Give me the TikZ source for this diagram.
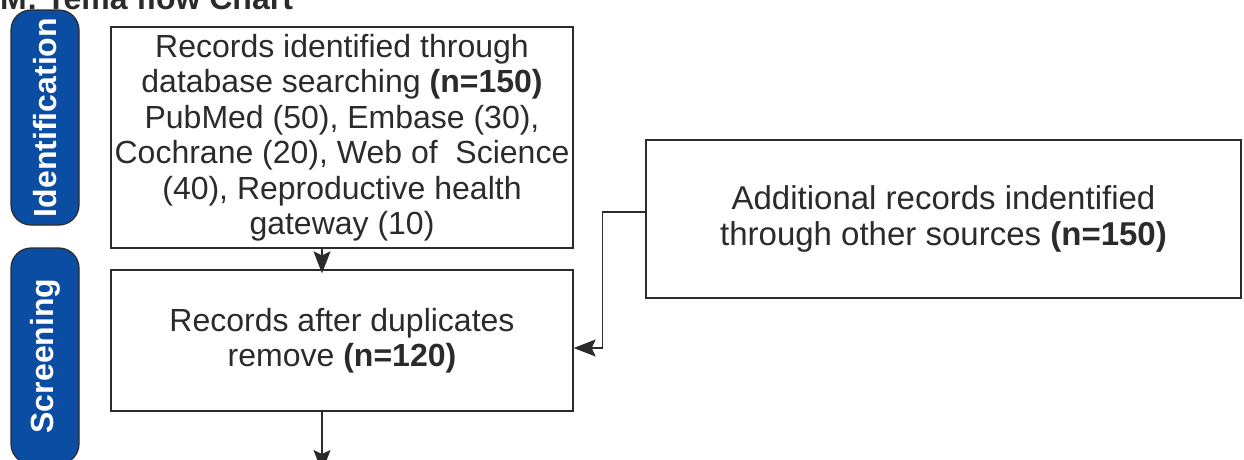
\documentclass[tikz,border=0pt]{standalone}
\usepackage{fontspec}
\setmainfont{Liberation Sans}
\usetikzlibrary{arrows.meta}
\definecolor{stageblue}{HTML}{0B4DA2}
\definecolor{inkgray}{HTML}{2B2B2B}
\begin{document}
\begin{tikzpicture}[x=1pt,y=-1pt,
	box/.style={draw=inkgray,line width=1.3pt,align=center,inner sep=2pt,text=inkgray,
		font=\fontsize{32}{35.5}\selectfont},
	stage/.style={draw=inkgray,fill=stageblue,line width=1.2pt,rounded corners=20pt,
		minimum width=68pt},
	stagetext/.style={rotate=90,text=white,font=\fontsize{32}{36}\selectfont\bfseries},
	arr/.style={draw=inkgray,line width=1.4pt,-{Stealth[length=22pt,width=17pt,inset=4pt]}}]
	\useasboundingbox (0,0) rectangle (1244,459);
	\clip (0,0) rectangle (1244,459);
	\node[anchor=base west,inner sep=0pt,text=inkgray,font=\fontsize{32}{36}\selectfont\bfseries] (title) at (0,9) {M: Tema flow Chart};
	\node[stage,minimum height=215pt] (ident) at (45,117.5) {};
	\node[stagetext] at (ident.center) {Identification};
	\node[stage,minimum height=216pt] (screen) at (45,356) {};
	\node[stagetext] at (screen.center) {Screening};
	\node[box,minimum width=462pt,minimum height=221pt] (search) at (342,137.5)
		{Records identified through\\ database searching \textbf{(n=150)}\\ PubMed (50), Embase (30),\\ Cochrane (20), Web of\ \ Science\\ (40), Reproductive health\\ gateway (10)};
	\node[box,minimum width=462pt,minimum height=141pt] (dedup) at (342,340.5)
		{Records after duplicates\\ remove \textbf{(n=120)}};
	\node[box,minimum width=595pt,minimum height=158pt,font=\fontsize{33}{36}\selectfont] (other) at (943.5,219)
		{Additional records indentified\\ through other sources \textbf{(n=150)}};
	\coordinate (down) at (322,472);
	\draw[arr] (search.south -| down) -- ([yshift=-4pt]dedup.north -| down);
	\draw[arr] ([yshift=7pt]other.west) -- ++(-43,0) |- ([yshift=-7.5pt]dedup.east);
	\draw[arr] (dedup.south -| down) -- (down);
\end{tikzpicture}
\end{document}
